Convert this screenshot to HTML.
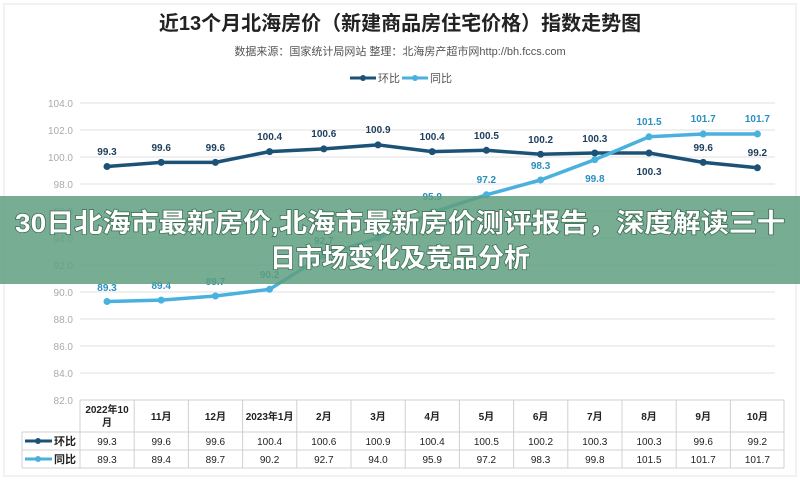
<!DOCTYPE html>
<html><head><meta charset="utf-8"><style>
html,body{margin:0;padding:0;width:800px;height:481px;overflow:hidden;background:#fff;font-family:"Liberation Sans","Noto Sans CJK SC",sans-serif}
</style></head><body>
<svg width="800" height="481" xmlns="http://www.w3.org/2000/svg" style="position:absolute;left:0;top:0;font-family:'Liberation Sans','Noto Sans CJK SC',sans-serif">
<rect x="4" y="4" width="792" height="472" fill="#fff" stroke="#e4e4e4"/>
<text x="400" y="30" text-anchor="middle" font-size="20" font-weight="bold" fill="#222">近13个月北海房价（新建商品房住宅价格）指数走势图</text>
<text x="400" y="55" text-anchor="middle" font-size="11" fill="#555">数据来源：国家统计局网站   整理：北海房产超市网http://bh.fccs.com</text>
<line x1="350" y1="78" x2="376" y2="78" stroke="#1d5277" stroke-width="3"/><circle cx="363" cy="78" r="3" fill="#1d5277"/>
<text x="378" y="82" font-size="11" fill="#555">环比</text>
<line x1="402" y1="78" x2="428" y2="78" stroke="#4ab1de" stroke-width="3"/><circle cx="415" cy="78" r="3" fill="#4ab1de"/>
<text x="430" y="82" font-size="11" fill="#555">同比</text>
<g stroke="#e2e2e2" stroke-width="1">
<line x1="80" y1="103" x2="775" y2="103"/><line x1="80" y1="130" x2="775" y2="130"/><line x1="80" y1="157" x2="775" y2="157"/><line x1="80" y1="184" x2="775" y2="184"/><line x1="80" y1="211" x2="775" y2="211"/><line x1="80" y1="238" x2="775" y2="238"/><line x1="80" y1="265" x2="775" y2="265"/><line x1="80" y1="292" x2="775" y2="292"/><line x1="80" y1="319" x2="775" y2="319"/><line x1="80" y1="346" x2="775" y2="346"/><line x1="80" y1="373" x2="775" y2="373"/><line x1="80" y1="400" x2="775" y2="400"/>
</g>
<g font-size="10" fill="#aaa" text-anchor="end">
<text x="73" y="107">104.0</text><text x="73" y="134">102.0</text><text x="73" y="161">100.0</text><text x="73" y="188">98.0</text><text x="73" y="215">96.0</text><text x="73" y="242">94.0</text><text x="73" y="269">92.0</text><text x="73" y="296">90.0</text><text x="73" y="323">88.0</text><text x="73" y="350">86.0</text><text x="73" y="377">84.0</text><text x="73" y="404">82.0</text>
</g>
<polyline fill="none" stroke="#1d5277" stroke-width="3.5" stroke-linejoin="round" points="107,166.5 161.2,162.4 215.4,162.4 269.6,151.6 323.8,148.9 378,144.9 432.2,151.6 486.4,150.3 540.6,154.3 594.8,153 649,153 703.2,162.4 757.4,167.8"/>
<polyline fill="none" stroke="#4ab1de" stroke-width="3.5" stroke-linejoin="round" points="107,301.5 161.2,300.1 215.4,296 269.6,289.3 323.8,255.5 378,238 432.2,212.4 486.4,194.8 540.6,180 594.8,159.7 649,136.8 703.2,134 757.4,134"/>
<g fill="#1d5277"><circle cx="107" cy="166.5" r="3.5"/><circle cx="161.2" cy="162.4" r="3.5"/><circle cx="215.4" cy="162.4" r="3.5"/><circle cx="269.6" cy="151.6" r="3.5"/><circle cx="323.8" cy="148.9" r="3.5"/><circle cx="378" cy="144.9" r="3.5"/><circle cx="432.2" cy="151.6" r="3.5"/><circle cx="486.4" cy="150.3" r="3.5"/><circle cx="540.6" cy="154.3" r="3.5"/><circle cx="594.8" cy="153" r="3.5"/><circle cx="649" cy="153" r="3.5"/><circle cx="703.2" cy="162.4" r="3.5"/><circle cx="757.4" cy="167.8" r="3.5"/></g>
<g fill="#4ab1de"><circle cx="107" cy="301.5" r="3.5"/><circle cx="161.2" cy="300.1" r="3.5"/><circle cx="215.4" cy="296" r="3.5"/><circle cx="269.6" cy="289.3" r="3.5"/><circle cx="323.8" cy="255.5" r="3.5"/><circle cx="378" cy="238" r="3.5"/><circle cx="432.2" cy="212.4" r="3.5"/><circle cx="486.4" cy="194.8" r="3.5"/><circle cx="540.6" cy="180" r="3.5"/><circle cx="594.8" cy="159.7" r="3.5"/><circle cx="649" cy="136.8" r="3.5"/><circle cx="703.2" cy="134" r="3.5"/><circle cx="757.4" cy="134" r="3.5"/></g>
<g font-size="10" font-weight="bold" fill="#1d3d5c" text-anchor="middle">
<text x="107" y="155">99.3</text><text x="161.2" y="151">99.6</text><text x="215.4" y="151">99.6</text><text x="269.6" y="140">100.4</text><text x="323.8" y="137">100.6</text><text x="378" y="133">100.9</text><text x="432.2" y="140">100.4</text><text x="486.4" y="139">100.5</text><text x="540.6" y="143">100.2</text><text x="594.8" y="142">100.3</text><text x="649" y="175">100.3</text><text x="703.2" y="151">99.6</text><text x="757.4" y="156">99.2</text>
</g>
<g font-size="10" font-weight="bold" fill="#2a8fc0" text-anchor="middle">
<text x="107" y="291">89.3</text><text x="161.2" y="289">89.4</text><text x="215.4" y="285">89.7</text><text x="269.6" y="278">90.2</text><text x="323.8" y="244">92.7</text><text x="378" y="226">94.0</text><text x="432.2" y="200">95.9</text><text x="486.4" y="183">97.2</text><text x="540.6" y="169">98.3</text><text x="594.8" y="182">99.8</text><text x="649" y="125">101.5</text><text x="703.2" y="122">101.7</text><text x="757.4" y="122">101.7</text>
</g>
<g stroke="#d0d0d0" stroke-width="1" fill="none">
<line x1="80" y1="400" x2="784" y2="400"/><line x1="22" y1="432" x2="784" y2="432"/><line x1="22" y1="450" x2="784" y2="450"/><line x1="22" y1="468" x2="784" y2="468"/>
<line x1="22" y1="432" x2="22" y2="468"/>
<line x1="80" y1="400" x2="80" y2="468"/><line x1="134.2" y1="400" x2="134.2" y2="468"/><line x1="188.4" y1="400" x2="188.4" y2="468"/><line x1="242.6" y1="400" x2="242.6" y2="468"/><line x1="296.8" y1="400" x2="296.8" y2="468"/><line x1="351" y1="400" x2="351" y2="468"/><line x1="405.2" y1="400" x2="405.2" y2="468"/><line x1="459.4" y1="400" x2="459.4" y2="468"/><line x1="513.6" y1="400" x2="513.6" y2="468"/><line x1="567.8" y1="400" x2="567.8" y2="468"/><line x1="622" y1="400" x2="622" y2="468"/><line x1="676.2" y1="400" x2="676.2" y2="468"/><line x1="730.4" y1="400" x2="730.4" y2="468"/><line x1="784" y1="400" x2="784" y2="468"/>
</g>
<g font-size="10" font-weight="bold" fill="#222" text-anchor="middle">
<text x="107" y="413">2022年10</text><text x="107" y="426">月</text>
<text x="161.2" y="420">11月</text><text x="215.4" y="420">12月</text><text x="269.6" y="420">2023年1月</text><text x="323.8" y="420">2月</text><text x="378" y="420">3月</text><text x="432.2" y="420">4月</text><text x="486.4" y="420">5月</text><text x="540.6" y="420">6月</text><text x="594.8" y="420">7月</text><text x="649" y="420">8月</text><text x="703.2" y="420">9月</text><text x="757.4" y="420">10月</text>
</g>
<g font-size="10" fill="#222" text-anchor="middle">
<text x="107" y="445">99.3</text><text x="161.2" y="445">99.6</text><text x="215.4" y="445">99.6</text><text x="269.6" y="445">100.4</text><text x="323.8" y="445">100.6</text><text x="378" y="445">100.9</text><text x="432.2" y="445">100.4</text><text x="486.4" y="445">100.5</text><text x="540.6" y="445">100.2</text><text x="594.8" y="445">100.3</text><text x="649" y="445">100.3</text><text x="703.2" y="445">99.6</text><text x="757.4" y="445">99.2</text>
<text x="107" y="463">89.3</text><text x="161.2" y="463">89.4</text><text x="215.4" y="463">89.7</text><text x="269.6" y="463">90.2</text><text x="323.8" y="463">92.7</text><text x="378" y="463">94.0</text><text x="432.2" y="463">95.9</text><text x="486.4" y="463">97.2</text><text x="540.6" y="463">98.3</text><text x="594.8" y="463">99.8</text><text x="649" y="463">101.5</text><text x="703.2" y="463">101.7</text><text x="757.4" y="463">101.7</text>
</g>
<line x1="25" y1="441" x2="52" y2="441" stroke="#1d5277" stroke-width="3"/><circle cx="38" cy="441" r="3" fill="#1d5277"/>
<text x="54" y="445" font-size="11" font-weight="bold" fill="#222">环比</text>
<line x1="25" y1="459" x2="52" y2="459" stroke="#4ab1de" stroke-width="3"/><circle cx="38" cy="459" r="3" fill="#4ab1de"/>
<text x="54" y="463" font-size="11" font-weight="bold" fill="#222">同比</text>
<rect x="0" y="196" width="800" height="88" fill="#5f9f7f" fill-opacity="0.85"/>
<g font-size="26" font-weight="bold" fill="#fff" text-anchor="middle" style="paint-order:stroke" stroke="#3a6b52" stroke-width="1.5">
<text x="400" y="232" textLength="770" lengthAdjust="spacingAndGlyphs">30日北海市最新房价,北海市最新房价测评报告，深度解读三十</text>
<text x="400" y="267">日市场变化及竞品分析</text>
</g>
</svg>
</body></html>
